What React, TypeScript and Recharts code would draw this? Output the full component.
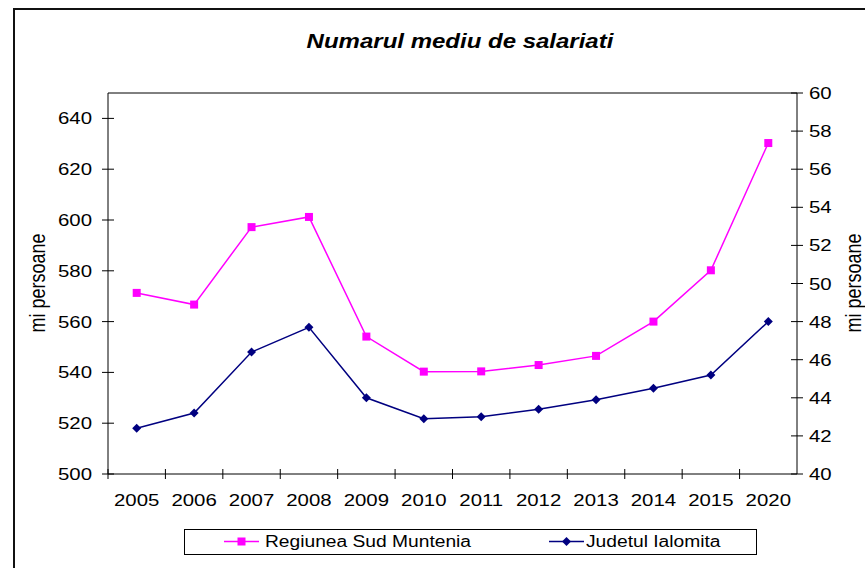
import React from "react";
import { LineChart, Line, XAxis, YAxis } from "recharts";

const CATEGORIES = ["2005", "2006", "2007", "2008", "2009", "2010", "2011", "2012", "2013", "2014", "2015", "2020"];
const SUD_MUNTENIA = [571.3, 566.7, 597.2, 601.2, 554.1, 540.3, 540.4, 542.9, 546.5, 560.0, 580.2, 630.3];
const IALOMITA = [42.4, 43.2, 46.4, 47.7, 44.0, 42.9, 43.0, 43.4, 43.9, 44.5, 45.2, 48.0];
const LEFT_TICKS = [500, 520, 540, 560, 580, 600, 620, 640];
const RIGHT_TICKS = [40, 42, 44, 46, 48, 50, 52, 54, 56, 58, 60];

const W = 865;
const H = 568;
const LEFT_W = 108;
const RIGHT_W = 68;
const PLOT_W = W - LEFT_W - RIGHT_W;
const BAND = PLOT_W / CATEGORIES.length;
const FONT = '"Liberation Sans", Arial, sans-serif';
const MAGENTA = "#ff00ff";
const NAVY = "#000080";
// the source image is stretched sideways, so text gets a horizontal scale
const SX = 1.2;

const data = CATEGORIES.map((year, i) => ({
  year,
  sud: SUD_MUNTENIA[i],
  ialomita: IALOMITA[i],
}));

function Txt(props: { x: number; y: number; anchor: string; children: any }) {
  return (
    <text
      transform={`translate(${props.x},${props.y}) scale(${SX},1)`}
      textAnchor={props.anchor}
      fontSize={17}
      fontFamily={FONT}
      fill="#000"
    >
      {props.children}
    </text>
  );
}

function LeftTick(props: any) {
  const { x, y, payload } = props;
  return (
    <g>
      <line x1={x - 6} x2={x + 6} y1={y} y2={y} stroke="#000" />
      <Txt x={x - 16} y={y + 6} anchor="end">
        {payload.value}
      </Txt>
    </g>
  );
}

function RightTick(props: any) {
  const { x, y, payload } = props;
  return (
    <g>
      <line x1={x - 6} x2={x + 6} y1={y} y2={y} stroke="#000" />
      <Txt x={x + 12} y={y + 6} anchor="start">
        {payload.value}
      </Txt>
    </g>
  );
}

function BottomTick(props: any) {
  const { x, y, payload } = props;
  const bx = x - BAND / 2;
  return (
    <g>
      <line x1={bx} x2={bx} y1={y - 5} y2={y + 5} stroke="#000" />
      <Txt x={x} y={y + 32} anchor="middle">
        {payload.value}
      </Txt>
    </g>
  );
}

function SquareDot(props: any) {
  const { cx, cy } = props;
  if (cx == null || cy == null) return null;
  return <rect x={cx - 4} y={cy - 4} width={8} height={8} fill={MAGENTA} />;
}

function DiamondDot(props: any) {
  const { cx, cy } = props;
  if (cx == null || cy == null) return null;
  return (
    <polygon
      points={`${cx},${cy - 4.5} ${cx + 4.5},${cy} ${cx},${cy + 4.5} ${cx - 4.5},${cy}`}
      fill={NAVY}
    />
  );
}

const axisTitle: React.CSSProperties = {
  position: "absolute",
  fontFamily: FONT,
  fontSize: 18,
  lineHeight: "16px",
  whiteSpace: "nowrap",
  transform: `translate(-50%, -50%) scaleX(${SX}) rotate(-90deg)`,
};

const legendText: React.CSSProperties = {
  position: "absolute",
  top: 2,
  fontSize: 16,
  lineHeight: "20px",
  whiteSpace: "nowrap",
  transform: `scaleX(${SX})`,
  transformOrigin: "left center",
};

export default function App() {
  return (
    <div style={{ position: "relative", width: W, height: H, background: "#fff", overflow: "hidden" }}>
      <style>{`body{margin:0}`}</style>
      <div
        style={{
          position: "absolute",
          left: 13,
          top: 8,
          width: W,
          height: H,
          borderLeft: "2px solid #111",
          borderTop: "2px solid #111",
        }}
      />
      <div
        style={{
          position: "absolute",
          left: 460,
          top: 29,
          transform: `translateX(-50%) scaleX(${SX})`,
          whiteSpace: "nowrap",
          fontFamily: FONT,
          fontSize: 20,
          lineHeight: "24px",
          fontWeight: "bold",
          fontStyle: "italic",
        }}
      >
        Numarul mediu de salariati
      </div>
      <LineChart
        width={W}
        height={H}
        data={data}
        margin={{ top: 92, right: 0, bottom: 64, left: 0 }}
        style={{ position: "absolute", left: 0, top: 0 }}
      >
        <XAxis
          dataKey="year"
          height={30}
          stroke="#000"
          tickSize={0}
          tickMargin={0}
          tick={<BottomTick />}
          interval={0}
          padding={{ left: BAND / 2, right: BAND / 2 }}
        />
        <XAxis
          xAxisId="top"
          dataKey="year"
          orientation="top"
          height={1}
          stroke="#000"
          tick={false}
          tickLine={false}
          padding={{ left: BAND / 2, right: BAND / 2 }}
        />
        <YAxis
          yAxisId="left"
          width={LEFT_W}
          domain={[500, 650]}
          ticks={LEFT_TICKS}
          stroke="#000"
          tickSize={0}
          tickMargin={0}
          tick={<LeftTick />}
          allowDataOverflow
        />
        <YAxis
          yAxisId="right"
          orientation="right"
          width={RIGHT_W}
          domain={[40, 60]}
          ticks={RIGHT_TICKS}
          stroke="#000"
          tickSize={0}
          tickMargin={0}
          tick={<RightTick />}
          allowDataOverflow
        />
        <Line
          yAxisId="left"
          dataKey="sud"
          name="Regiunea Sud Muntenia"
          stroke={MAGENTA}
          strokeWidth={1.5}
          dot={<SquareDot />}
          activeDot={false}
          isAnimationActive={false}
        />
        <Line
          yAxisId="right"
          dataKey="ialomita"
          name="Judetul Ialomita"
          stroke={NAVY}
          strokeWidth={1.5}
          dot={<DiamondDot />}
          activeDot={false}
          isAnimationActive={false}
        />
      </LineChart>
      <div style={{ ...axisTitle, left: 38, top: 283 }}>mi persoane</div>
      <div style={{ ...axisTitle, left: 854, top: 283 }}>mi persoane</div>
      <div
        style={{
          position: "absolute",
          left: 184,
          top: 529,
          width: 573,
          height: 26,
          boxSizing: "border-box",
          border: "1px solid #000",
          fontFamily: FONT,
        }}
      >
        <svg width={40} height={24} style={{ position: "absolute", left: 39, top: 0 }}>
          <line x1={0} x2={35} y1={11.5} y2={11.5} stroke={MAGENTA} strokeWidth={1.5} />
          <rect x={13.5} y={7.5} width={8} height={8} fill={MAGENTA} />
        </svg>
        <div style={{ ...legendText, left: 80 }}>Regiunea Sud Muntenia</div>
        <svg width={40} height={24} style={{ position: "absolute", left: 364, top: 0 }}>
          <line x1={0} x2={35} y1={11.5} y2={11.5} stroke={NAVY} strokeWidth={1.5} />
          <polygon points="17.5,7 22,11.5 17.5,16 13,11.5" fill={NAVY} />
        </svg>
        <div style={{ ...legendText, left: 401 }}>Judetul Ialomita</div>
      </div>
    </div>
  );
}
